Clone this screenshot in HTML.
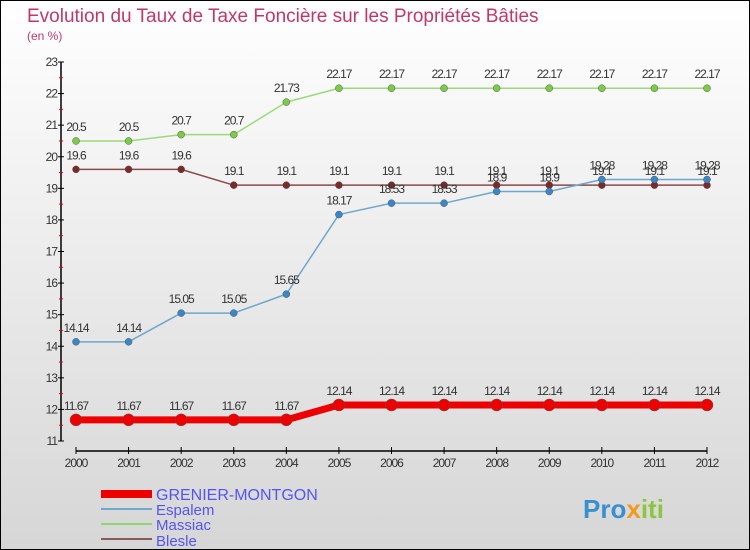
<!DOCTYPE html>
<html><head><meta charset="utf-8"><style>
body{margin:0}
#c{width:750px;height:550px;position:relative;box-sizing:border-box;border:1px solid #000;background:linear-gradient(#fff,#d6d6d6);font-family:"Liberation Sans",sans-serif;overflow:hidden}
</style></head><body>
<div id="c">
<svg id="s" width="750" height="550" style="position:absolute;left:0;top:0">
<text x="26" y="21" font-size="19" fill="#c03868">Evolution du Taux de Taxe Foncière sur les Propriétés Bâties</text>
<text x="26" y="39" font-size="12" fill="#c03868">(en %)</text>
<g id="axes"></g><g id="series"></g>
<g>
<rect x="100" y="489" width="51" height="8" fill="#e00"/>
<text x="155" y="499" font-size="16" fill="#5555ee">GRENIER-MONTGON</text>
<rect x="100" y="507" width="51" height="2" fill="#6fa6cc"/>
<text x="155" y="514" font-size="15" fill="#5555ee">Espalem</text>
<rect x="100" y="522" width="51" height="2" fill="#8fd86f"/>
<text x="155" y="529" font-size="15" fill="#5555ee">Massiac</text>
<rect x="100" y="537" width="51" height="2" fill="#8b5a5a"/>
<text x="155" y="545" font-size="15" fill="#5555ee">Blesle</text>
</g>
<text x="582" y="517" font-size="26" font-weight="bold" fill="#3a8fd0">Pro<tspan fill="#f29a1a">x</tspan><tspan fill="#8cc63f">iti</tspan></text>
</svg>
</div>
<script>
const years=["2000","2001","2002","2003","2004","2005","2006","2007","2008","2009","2010","2011","2012"];
const yTicks=[11,12,13,14,15,16,17,18,19,20,21,22,23];
const grenier=[11.67,11.67,11.67,11.67,11.67,12.14,12.14,12.14,12.14,12.14,12.14,12.14,12.14];
const espalem=[14.14,14.14,15.05,15.05,15.65,18.17,18.53,18.53,18.9,18.9,19.28,19.28,19.28];
const massiac=[20.5,20.5,20.7,20.7,21.73,22.17,22.17,22.17,22.17,22.17,22.17,22.17,22.17];
const blesle=[19.6,19.6,19.6,19.1,19.1,19.1,19.1,19.1,19.1,19.1,19.1,19.1,19.1];
const NS="http://www.w3.org/2000/svg";
const X=i=>75+i*(706-75)/(years.length-1);
const Y=v=>440-(v-11)*(440-61)/12;
function mk(t,a,p){const e=document.createElementNS(NS,t);for(const k in a)e.setAttribute(k,a[k]);p.appendChild(e);return e;}
const ax=document.getElementById('axes');
let e=mk('line',{x1:60,y1:Y(23),x2:60,y2:Y(11),stroke:'#000','stroke-width':1.5},ax);


e=mk('line',{x1:X(0),y1:450,x2:X(12),y2:450,stroke:'#000','stroke-width':1.5},ax);


yTicks.forEach(v=>{
 mk('line',{x1:57,x2:63,y1:Y(v),y2:Y(v),stroke:'#000'},ax);
 if(v<23)mk('line',{x1:58,x2:62,y1:Y(v+0.5),y2:Y(v+0.5),stroke:'#e00'},ax);
 const t=mk('text',{x:56,y:Y(v)+4,'font-size':12,'text-anchor':'end',fill:'#333','letter-spacing':'-1'},ax);
 t.textContent=v;
 
 
});
years.forEach((y,i)=>{
 mk('line',{x1:X(i),x2:X(i),y1:446,y2:453,stroke:'#000'},ax);
 const t=mk('text',{x:X(i),y:466,'font-size':12,'text-anchor':'middle',fill:'#333','letter-spacing':'-1'},ax);
 t.textContent=y;
 
 
});
const sg=document.getElementById('series');
function series(name,vals,col,w,r,dot){
 const g=mk('g',{},sg);
 
 
 const l=mk('polyline',{points:vals.map((v,i)=>X(i)+','+Y(v)).join(' '),fill:'none',stroke:col,'stroke-width':w,'stroke-linejoin':'round'},g);
 
 
 vals.forEach((v,i)=>{
  const c=mk('circle',{cx:X(i),cy:Y(v),r:r,fill:dot,stroke:'#555','stroke-width':0.5},g);
  
  
  const t=mk('text',{x:X(i),y:Y(v)-10,'font-size':12,'text-anchor':'middle',fill:'#333','letter-spacing':'-1'},g);
  t.textContent=v;
  
  
 });
}
series('blesle',blesle,'#8b4a4a',1.5,3.5,'#7a2a2a');
series('espalem',espalem,'#6fa6cc',1.5,3.5,'#3a87c8');
series('massiac',massiac,'#9ada7a',1.5,3.5,'#7acb45');
series('grenier',grenier,'#e00',7,6,'#e00');
</script>
</body></html>
